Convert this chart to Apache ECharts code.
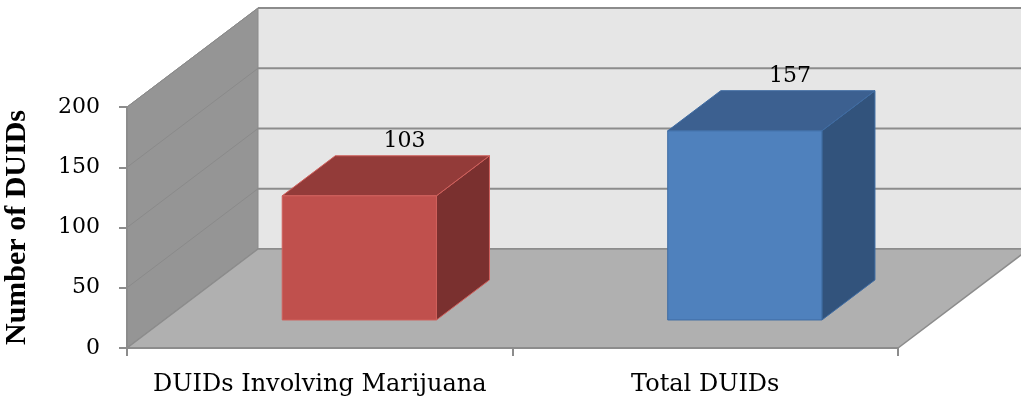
<!DOCTYPE html>
<html>
<head>
<meta charset="utf-8">
<script src="https://cdn.jsdelivr.net/npm/echarts@6/dist/echarts.min.js"></script>
<style>
html,body{margin:0;padding:0;background:#ffffff;}
#chart{width:1021px;height:406px;}
</style>
</head>
<body>
<div id="chart"></div>
<script>
// ---- data ----
const categories = ['DUIDs Involving Marijuana', 'Total DUIDs'];
const values = [103, 157];
const yTicks = [0, 50, 100, 150, 200];
const yTitle = 'Number of DUIDs';

// ---- styling ----
const barFront = ['#c0504d', '#4f81bd'];
const barTop   = ['#933b39', '#3c6090'];
const barSide  = ['#7a302f', '#32537c'];
const barEdge  = ['#d0605c', '#3f6ca3'];

// 3D depth (pixels for the full floor depth)
const DX = 131, DY = -99;
const F1X = 0.302, F1Y = 0.283; // bar front depth fraction (x / y)
const FD = 0.405;               // bar depth fraction
const BAR_W = 0.40;             // bar width as fraction of band

const chart = echarts.init(document.getElementById('chart'), null, {renderer: 'canvas'});

function renderFrame(params, api) {
  const cs = params.coordSys;
  const x0 = cs.x, x1 = cs.x + cs.width;
  const yb = api.coord([0, yTicks[0]])[1];
  const yt = api.coord([0, yTicks[yTicks.length - 1]])[1];
  const ch = [];
  // back wall
  ch.push({type: 'polygon', shape: {points: [[x0 + DX, yt + DY], [x1 + DX + 20, yt + DY], [x1 + DX + 20, yb + DY], [x0 + DX, yb + DY]]},
           style: {fill: '#e6e6e6'}});
  // left wall
  ch.push({type: 'polygon', shape: {points: [[x0, yb], [x0, yt], [x0 + DX, yt + DY], [x0 + DX, yb + DY]]},
           style: {fill: '#959595', stroke: '#8a8a8a', lineWidth: 1}});
  // grid lines
  yTicks.forEach(function (v) {
    const y = api.coord([0, v])[1];
    ch.push({type: 'line', shape: {x1: x0 + DX, y1: y + DY, x2: x1 + DX + 20, y2: y + DY},
             style: {stroke: '#8c8c8c', lineWidth: 2}});
    ch.push({type: 'line', shape: {x1: x0, y1: y, x2: x0 + DX, y2: y + DY},
             style: {stroke: '#8a8a8a', lineWidth: 1}});
  });
  // floor
  ch.push({type: 'polygon', shape: {points: [[x0, yb], [x1, yb], [x1 + DX, yb + DY], [x0 + DX, yb + DY]]},
           style: {fill: '#b0b0b0', stroke: '#8c8c8c', lineWidth: 1.5}});
  return {type: 'group', children: ch};
}

function renderBar(params, api) {
  const i = api.value(0), v = api.value(1);
  const base = api.coord([i, 0]);
  const top = api.coord([i, v]);
  const bw = api.size([1, 0])[0] * BAR_W;
  const fx = base[0] - bw / 2 + F1X * DX;
  const fy0 = base[1] + F1Y * DY;
  const fy1 = top[1] + F1Y * DY;
  const bdx = FD * DX, bdy = FD * DY;
  const idx = params.dataIndex;
  return {type: 'group', children: [
    {type: 'polygon', shape: {points: [[fx + bw, fy1], [fx + bw + bdx, fy1 + bdy], [fx + bw + bdx, fy0 + bdy], [fx + bw, fy0]]},
     style: {fill: barSide[idx], stroke: barEdge[idx], lineWidth: 1}},
    {type: 'polygon', shape: {points: [[fx, fy1], [fx + bw, fy1], [fx + bw + bdx, fy1 + bdy], [fx + bdx, fy1 + bdy]]},
     style: {fill: barTop[idx], stroke: barEdge[idx], lineWidth: 1}},
    {type: 'rect', shape: {x: fx, y: fy1, width: bw, height: fy0 - fy1},
     style: {fill: barFront[idx], stroke: barEdge[idx], lineWidth: 1}},
    {type: 'text', style: {text: String(v), x: fx + bw / 2 + bdx * 0.85, y: fy1 + bdy - 14,
      align: 'center', verticalAlign: 'middle', fontSize: 22, fontFamily: 'DejaVu Serif', fill: '#000'}}
  ]};
}

const option = {
  animation: false,
  backgroundColor: '#ffffff',
  grid: {left: 127, right: 123, top: 107, bottom: 58, containLabel: false, outerBoundsMode: 'none'},
  xAxis: {
    type: 'category',
    data: categories,
    z: 10,
    axisLine: {show: true, lineStyle: {color: '#8c8c8c', width: 2}},
    axisTick: {show: true, length: 8, lineStyle: {color: '#8c8c8c', width: 2}},
    axisLabel: {interval: 0, margin: 25, fontSize: 24, fontFamily: 'DejaVu Serif', color: '#000'},
    splitLine: {show: false}
  },
  yAxis: {
    type: 'value',
    min: 0, max: 200, interval: 50,
    z: 10,
    name: yTitle,
    nameLocation: 'middle',
    nameRotate: 90,
    nameGap: 95,
    nameTextStyle: {fontSize: 30, fontWeight: 'bold', fontFamily: 'Liberation Serif', color: '#000'},
    axisLine: {show: true, lineStyle: {color: '#8c8c8c', width: 2}},
    axisTick: {show: true, length: 8, lineStyle: {color: '#8c8c8c', width: 2}},
    axisLabel: {margin: 27, fontSize: 22, fontFamily: 'DejaVu Serif', color: '#000'},
    splitLine: {show: false}
  },
  series: [
    {type: 'custom', renderItem: renderFrame, data: [[0, 0]], silent: true, z: 1},
    {type: 'custom', renderItem: renderBar, data: values.map(function (v, i) { return [i, v]; }), z: 3}
  ]
};
chart.setOption(option);
</script>
</body>
</html>
